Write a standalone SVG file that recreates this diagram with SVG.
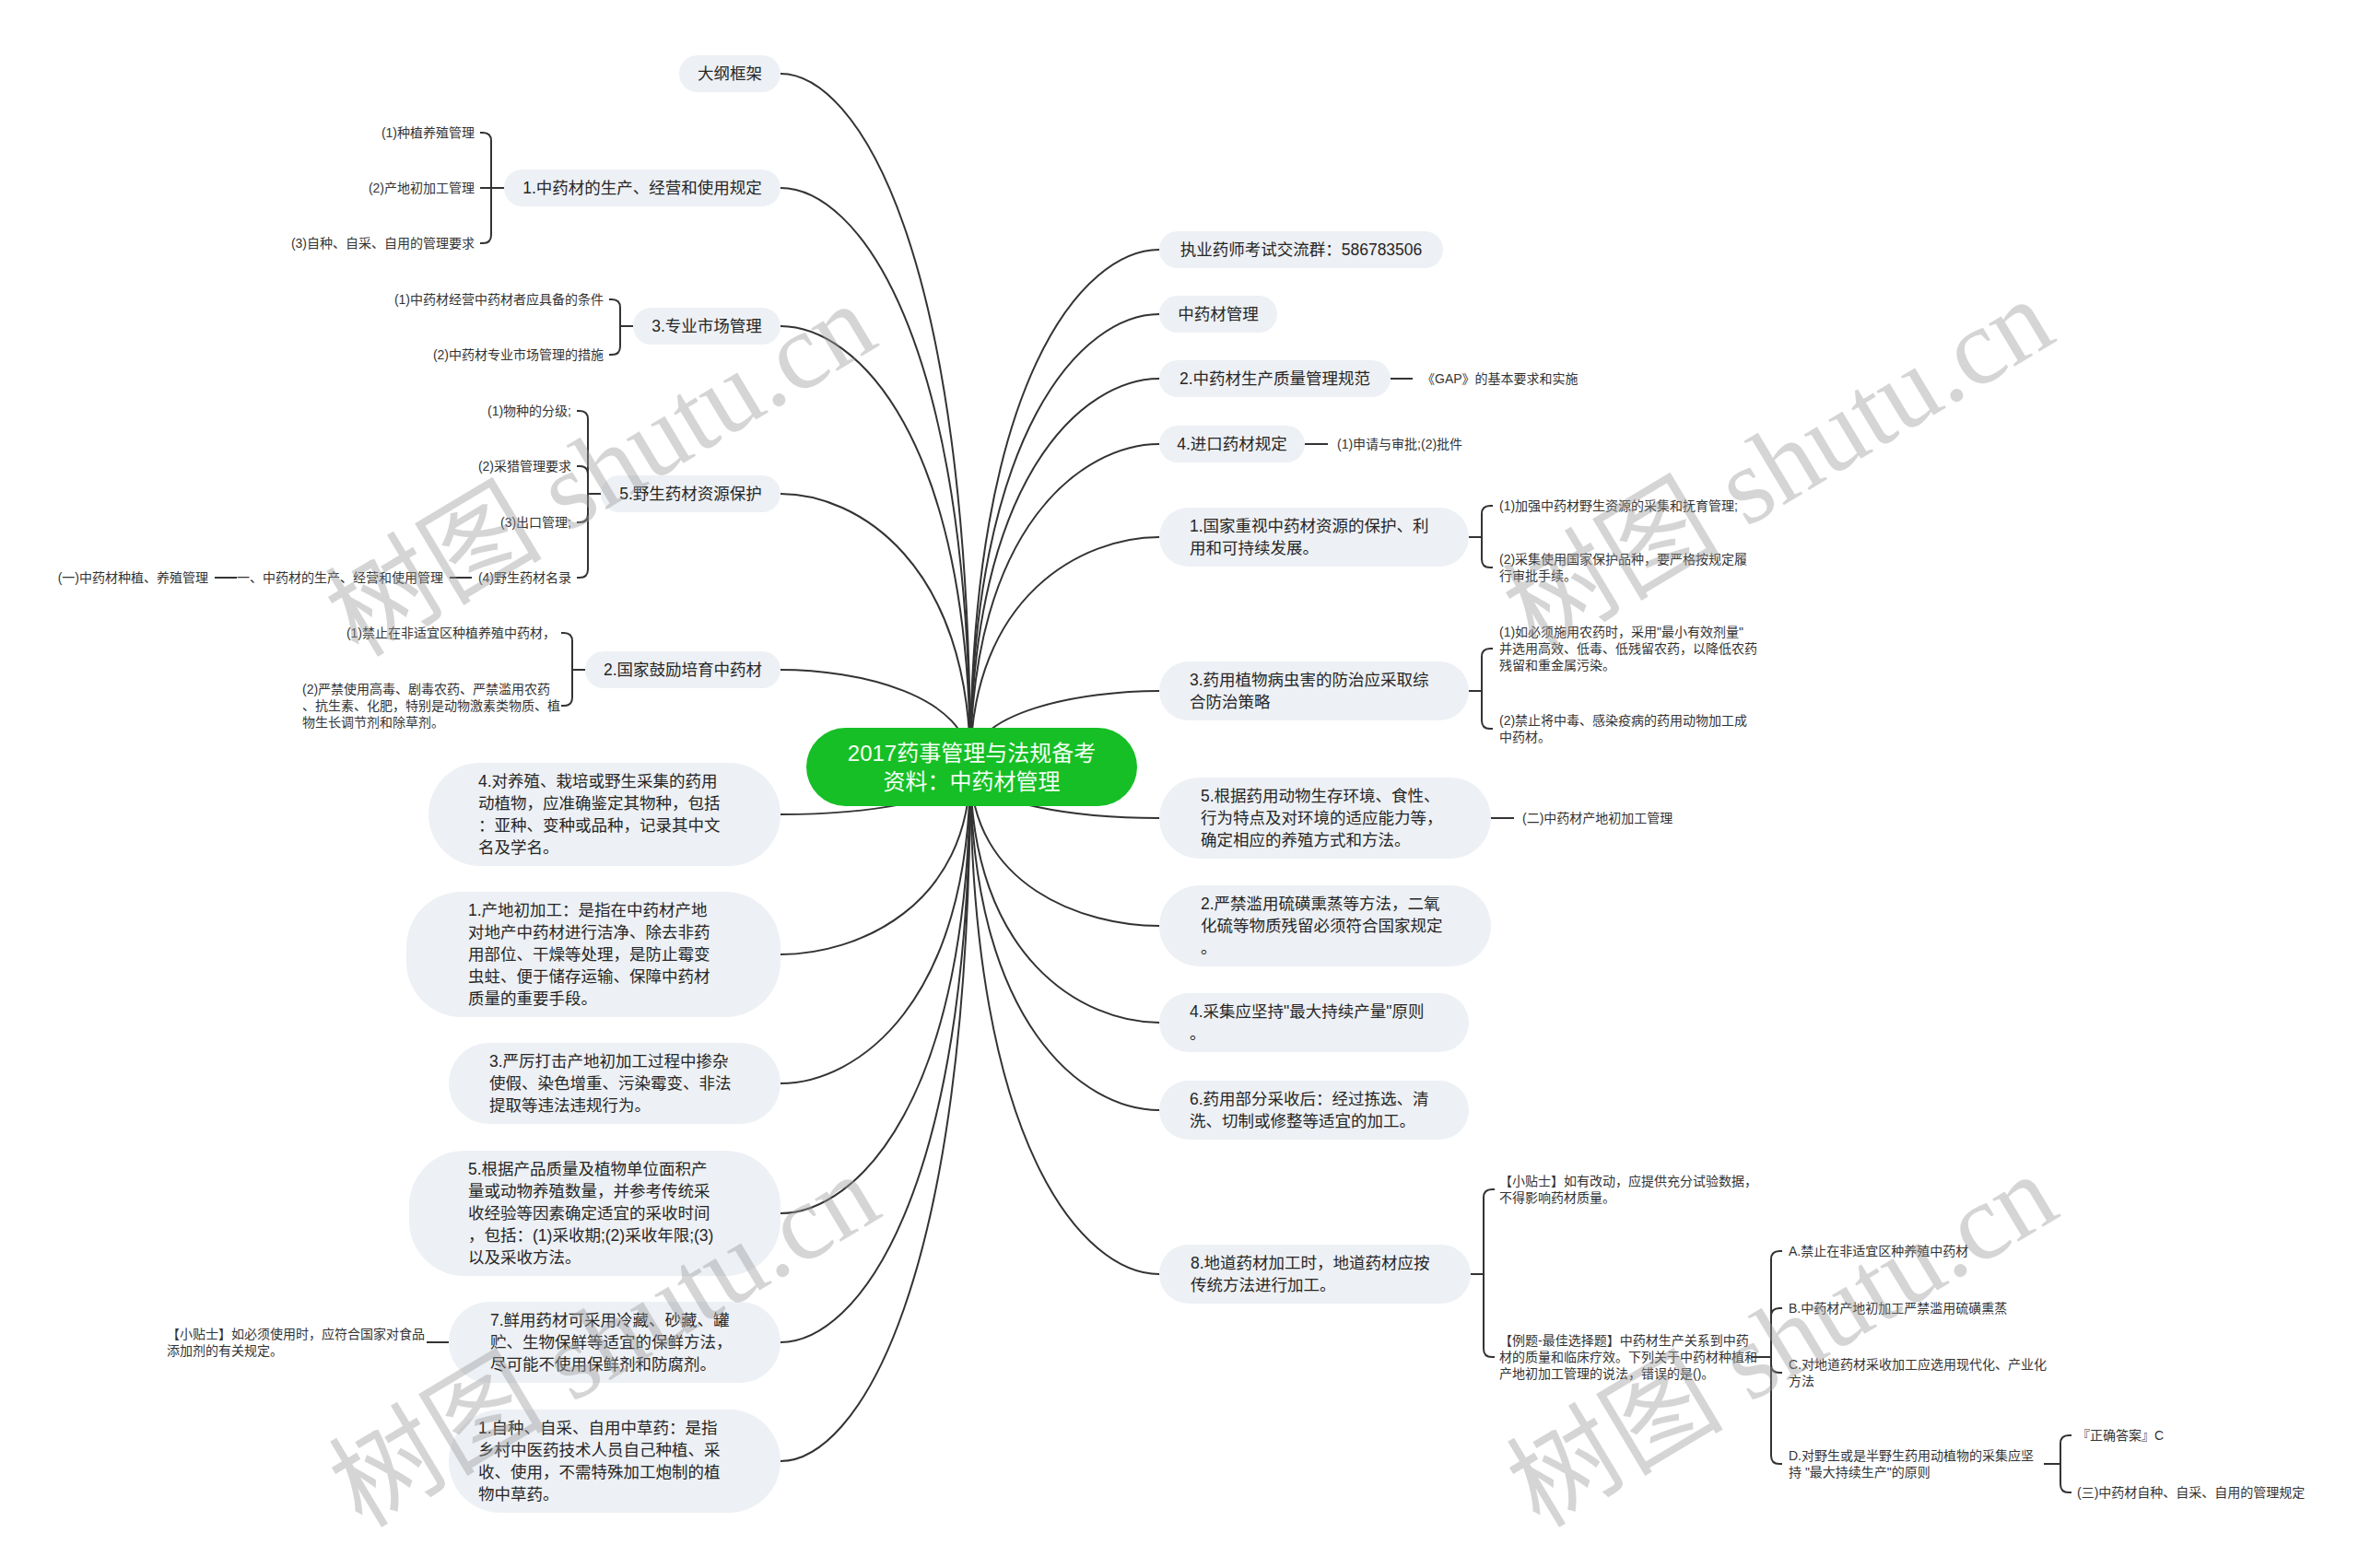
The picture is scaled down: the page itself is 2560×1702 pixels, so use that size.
<svg xmlns="http://www.w3.org/2000/svg" width="2560" height="1702" viewBox="0 0 2560 1702">
<style>
.bg{fill:#ffffff}
.pill{fill:#edf0f4}
.root{fill:#16bf26}
.t{font-family:"Liberation Sans","Noto Sans CJK SC",sans-serif;font-size:17.5px;fill:#262626}
.tm{font-family:"Liberation Sans","Noto Sans CJK SC",sans-serif;font-size:17.5px;fill:#262626;text-anchor:middle}
.rt{font-family:"Liberation Sans","Noto Sans CJK SC",sans-serif;font-size:24px;fill:#f4fff4;text-anchor:middle}
.s{font-family:"Liberation Sans","Noto Sans CJK SC",sans-serif;font-size:14px;fill:#333333}
.se{font-family:"Liberation Sans","Noto Sans CJK SC",sans-serif;font-size:14px;fill:#333333;text-anchor:end}
.c{fill:none;stroke:#333333;stroke-width:2}
.wm{font-family:"Liberation Serif","Noto Sans CJK SC",serif;font-size:118px;fill:#9a9a9a;fill-opacity:0.42;text-anchor:middle}
</style>
<rect class="bg" x="0" y="0" width="2560" height="1702"/>
<g id="connectors">
<path class="c" d="M1053 832 C1053 268 929 80 847 80"/>
<path class="c" d="M1053 832 C1053 361 929 204 847 204"/>
<path class="c" d="M1053 832 C1053 474 929 354 847 354"/>
<path class="c" d="M1053 832 C1053 610 929 536 847 536"/>
<path class="c" d="M1053 832 C1053 753 929 727 847 727"/>
<path class="c" d="M1053 832 C1053 871 929 884 847 884"/>
<path class="c" d="M1053 832 C1053 985 929 1036 847 1036"/>
<path class="c" d="M1053 832 C1053 1090 929 1176 847 1176"/>
<path class="c" d="M1053 832 C1053 1196 929 1317 847 1317"/>
<path class="c" d="M1053 832 C1053 1301 929 1457 847 1457"/>
<path class="c" d="M1053 832 C1053 1398 929 1586 847 1586"/>
<path class="c" d="M1053 832 C1053 411 1176 271 1258 271"/>
<path class="c" d="M1053 832 C1053 464 1176 341 1258 341"/>
<path class="c" d="M1053 832 C1053 516 1176 411 1258 411"/>
<path class="c" d="M1053 832 C1053 570 1176 482 1258 482"/>
<path class="c" d="M1053 832 C1053 645 1176 583 1258 583"/>
<path class="c" d="M1053 832 C1053 771 1176 750 1258 750"/>
<path class="c" d="M1053 832 C1053 874 1176 888 1258 888"/>
<path class="c" d="M1053 832 C1053 962 1176 1005 1258 1005"/>
<path class="c" d="M1053 832 C1053 1041 1176 1110 1258 1110"/>
<path class="c" d="M1053 832 C1053 1112 1176 1205 1258 1205"/>
<path class="c" d="M1053 832 C1053 1245 1176 1383 1258 1383"/>
<path class="c" d="M547 204 H533 M533 204 V153 Q533 144 524 144 H521 M533 204 H521 M533 204 V255 Q533 264 524 264 H521"/>
<path class="c" d="M687 354 H673 M673 354 V334 Q673 325 664 325 H661 M673 354 V376 Q673 385 664 385 H661"/>
<path class="c" d="M652 536 H638 M638 536 V455 Q638 446 629 446 H626 M638 536 V515 Q638 506 629 506 H626 M638 536 V558 Q638 567 629 567 H626 M638 536 V618 Q638 627 629 627 H626"/>
<path class="c" d="M512 627 H488 M257 627 H233"/>
<path class="c" d="M635 727 H621 M621 727 V696 Q621 687 612 687 H609 M621 727 V757 Q621 766 612 766 H609"/>
<path class="c" d="M487 1457 H463"/>
<path class="c" d="M1509 411 H1533"/>
<path class="c" d="M1416 482 H1441"/>
<path class="c" d="M1594 583 H1608 M1608 583 V558 Q1608 549 1617 549 H1620 M1608 583 V607 Q1608 616 1617 616 H1620"/>
<path class="c" d="M1594 750 H1608 M1608 750 V713 Q1608 704 1617 704 H1620 M1608 750 V782 Q1608 791 1617 791 H1620"/>
<path class="c" d="M1618 888 H1643"/>
<path class="c" d="M1596 1383 H1610 M1610 1383 V1300 Q1610 1291 1619 1291 H1622 M1610 1383 V1464 Q1610 1473 1619 1473 H1622"/>
<path class="c" d="M1900 1473 H1922 M1922 1473 V1367 Q1922 1358 1931 1358 H1934 M1922 1473 V1429 Q1922 1420 1931 1420 H1934 M1922 1473 V1481 Q1922 1490 1931 1490 H1934 M1922 1473 V1580 Q1922 1589 1931 1589 H1934"/>
<path class="c" d="M2218 1589 H2236 M2236 1589 V1567 Q2236 1558 2245 1558 H2248 M2236 1589 V1611 Q2236 1620 2245 1620 H2248"/>
</g>

<g id="root">
<rect class="root" x="875" y="790" width="359" height="85" rx="42.5"/>
<text class="rt" x="1054.5" y="826">2017药事管理与法规备考</text>
<text class="rt" x="1054.5" y="857">资料：中药材管理</text>
</g>

<g id="n-dagang"><rect class="pill" x="737" y="60" width="110" height="40" rx="20"/><text class="tm" x="792" y="86">大纲框架</text></g>
<g id="n-l1"><rect class="pill" x="547" y="184" width="300" height="40" rx="20"/><text class="tm" x="697" y="210">1.中药材的生产、经营和使用规定</text></g>
<g id="n-l1-c1"><text class="se" x="515" y="149">(1)种植养殖管理</text></g>
<g id="n-l1-c2"><text class="se" x="515" y="209">(2)产地初加工管理</text></g>
<g id="n-l1-c3"><text class="se" x="515" y="269">(3)自种、自采、自用的管理要求</text></g>
<g id="n-l3"><rect class="pill" x="687" y="334" width="160" height="40" rx="20"/><text class="tm" x="767" y="360">3.专业市场管理</text></g>
<g id="n-l3-c1"><text class="se" x="655" y="330">(1)中药材经营中药材者应具备的条件</text></g>
<g id="n-l3-c2"><text class="se" x="655" y="390">(2)中药材专业市场管理的措施</text></g>
<g id="n-l5"><rect class="pill" x="652" y="516" width="195" height="40" rx="20"/><text class="tm" x="749.5" y="542">5.野生药材资源保护</text></g>
<g id="n-l5-c1"><text class="se" x="620" y="451">(1)物种的分级;</text></g>
<g id="n-l5-c2"><text class="se" x="620" y="511">(2)采猎管理要求</text></g>
<g id="n-l5-c3"><text class="se" x="620" y="572">(3)出口管理;</text></g>
<g id="n-l5-c4"><text class="se" x="620" y="632">(4)野生药材名录</text></g>
<g id="n-l5-c4-1"><text class="se" x="481" y="632">一、中药材的生产、经营和使用管理</text></g>
<g id="n-l5-c4-1-1"><text class="se" x="226" y="632">(一)中药材种植、养殖管理</text></g>
<g id="n-l2"><rect class="pill" x="635" y="707" width="212" height="40" rx="20"/><text class="tm" x="741" y="733">2.国家鼓励培育中药材</text></g>
<g id="n-l2-c1"><text class="se" x="603" y="692">(1)禁止在非适宜区种植养殖中药材，</text></g>
<g id="n-l2-c2"><text class="s"><tspan x="328" y="753">(2)严禁使用高毒、剧毒农药、严禁滥用农药</tspan><tspan x="328" y="771">、抗生素、化肥，特别是动物激素类物质、植</tspan><tspan x="328" y="789">物生长调节剂和除草剂。</tspan></text></g>
<g id="n-l4"><rect class="pill" x="465" y="828" width="382" height="112" rx="56"/><text class="t"><tspan x="519" y="854">4.对养殖、栽培或野生采集的药用</tspan><tspan x="519" y="878">动植物，应准确鉴定其物种，包括</tspan><tspan x="519" y="902">：亚种、变种或品种，记录其中文</tspan><tspan x="519" y="926">名及学名。</tspan></text></g>
<g id="n-l1b"><rect class="pill" x="441" y="968" width="406" height="136" rx="60"/><text class="t"><tspan x="508" y="994">1.产地初加工：是指在中药材产地</tspan><tspan x="508" y="1018">对地产中药材进行洁净、除去非药</tspan><tspan x="508" y="1042">用部位、干燥等处理，是防止霉变</tspan><tspan x="508" y="1066">虫蛀、便于储存运输、保障中药材</tspan><tspan x="508" y="1090">质量的重要手段。</tspan></text></g>
<g id="n-l3b"><rect class="pill" x="487" y="1132" width="360" height="88" rx="44"/><text class="t"><tspan x="531" y="1158">3.严厉打击产地初加工过程中掺杂</tspan><tspan x="531" y="1182">使假、染色增重、污染霉变、非法</tspan><tspan x="531" y="1206">提取等违法违规行为。</tspan></text></g>
<g id="n-l5b"><rect class="pill" x="444" y="1249" width="403" height="136" rx="60"/><text class="t"><tspan x="508" y="1275">5.根据产品质量及植物单位面积产</tspan><tspan x="508" y="1299">量或动物养殖数量，并参考传统采</tspan><tspan x="508" y="1323">收经验等因素确定适宜的采收时间</tspan><tspan x="508" y="1347">，包括：(1)采收期;(2)采收年限;(3)</tspan><tspan x="508" y="1371">以及采收方法。</tspan></text></g>
<g id="n-l7"><rect class="pill" x="487" y="1413" width="360" height="88" rx="44"/><text class="t"><tspan x="532" y="1439">7.鲜用药材可采用冷藏、砂藏、罐</tspan><tspan x="532" y="1463">贮、生物保鲜等适宜的保鲜方法，</tspan><tspan x="532" y="1487">尽可能不使用保鲜剂和防腐剂。</tspan></text></g>
<g id="n-l7-c1"><text class="s"><tspan x="181" y="1453">【小贴士】如必须使用时，应符合国家对食品</tspan><tspan x="181" y="1471">添加剂的有关规定。</tspan></text></g>
<g id="n-l1c"><rect class="pill" x="487" y="1530" width="360" height="112" rx="56"/><text class="t"><tspan x="519" y="1556">1.自种、自采、自用中草药：是指</tspan><tspan x="519" y="1580">乡村中医药技术人员自己种植、采</tspan><tspan x="519" y="1604">收、使用，不需特殊加工炮制的植</tspan><tspan x="519" y="1628">物中草药。</tspan></text></g>

<g id="n-r-qun"><rect class="pill" x="1258" y="251" width="308" height="40" rx="20"/><text class="tm" x="1412" y="277">执业药师考试交流群：586783506</text></g>
<g id="n-r-zyc"><rect class="pill" x="1258" y="321" width="128" height="40" rx="20"/><text class="tm" x="1322" y="347">中药材管理</text></g>
<g id="n-r2"><rect class="pill" x="1258" y="391" width="251" height="40" rx="20"/><text class="tm" x="1383.5" y="417">2.中药材生产质量管理规范</text></g>
<g id="n-r2-c1"><text class="s" x="1543" y="416">《GAP》的基本要求和实施</text></g>
<g id="n-r4"><rect class="pill" x="1258" y="462" width="158" height="40" rx="20"/><text class="tm" x="1337" y="488">4.进口药材规定</text></g>
<g id="n-r4-c1"><text class="s" x="1451" y="487">(1)申请与审批;(2)批件</text></g>
<g id="n-r1"><rect class="pill" x="1258" y="551" width="336" height="64" rx="32"/><text class="t"><tspan x="1291" y="577">1.国家重视中药材资源的保护、利</tspan><tspan x="1291" y="601">用和可持续发展。</tspan></text></g>
<g id="n-r1-c1"><text class="s" x="1627" y="554">(1)加强中药材野生资源的采集和抚育管理;</text></g>
<g id="n-r1-c2"><text class="s"><tspan x="1627" y="612">(2)采集使用国家保护品种，要严格按规定履</tspan><tspan x="1627" y="630">行审批手续。</tspan></text></g>
<g id="n-r3"><rect class="pill" x="1258" y="718" width="336" height="64" rx="32"/><text class="t"><tspan x="1291" y="744">3.药用植物病虫害的防治应采取综</tspan><tspan x="1291" y="768">合防治策略</tspan></text></g>
<g id="n-r3-c1"><text class="s"><tspan x="1627" y="691">(1)如必须施用农药时，采用"最小有效剂量"</tspan><tspan x="1627" y="709">并选用高效、低毒、低残留农药，以降低农药</tspan><tspan x="1627" y="727">残留和重金属污染。</tspan></text></g>
<g id="n-r3-c2"><text class="s"><tspan x="1627" y="787">(2)禁止将中毒、感染疫病的药用动物加工成</tspan><tspan x="1627" y="805">中药材。</tspan></text></g>
<g id="n-r5"><rect class="pill" x="1258" y="844" width="360" height="88" rx="44"/><text class="t"><tspan x="1303" y="870">5.根据药用动物生存环境、食性、</tspan><tspan x="1303" y="894">行为特点及对环境的适应能力等，</tspan><tspan x="1303" y="918">确定相应的养殖方式和方法。</tspan></text></g>
<g id="n-r5-c1"><text class="s" x="1652" y="893">(二)中药材产地初加工管理</text></g>
<g id="n-r2b"><rect class="pill" x="1258" y="961" width="360" height="88" rx="44"/><text class="t"><tspan x="1303" y="987">2.严禁滥用硫磺熏蒸等方法，二氧</tspan><tspan x="1303" y="1011">化硫等物质残留必须符合国家规定</tspan><tspan x="1303" y="1035">。</tspan></text></g>
<g id="n-r4b"><rect class="pill" x="1258" y="1078" width="336" height="64" rx="32"/><text class="t"><tspan x="1291" y="1104">4.采集应坚持"最大持续产量"原则</tspan><tspan x="1291" y="1128">。</tspan></text></g>
<g id="n-r6"><rect class="pill" x="1258" y="1173" width="336" height="64" rx="32"/><text class="t"><tspan x="1291" y="1199">6.药用部分采收后：经过拣选、清</tspan><tspan x="1291" y="1223">洗、切制或修整等适宜的加工。</tspan></text></g>
<g id="n-r8"><rect class="pill" x="1258" y="1351" width="338" height="64" rx="32"/><text class="t"><tspan x="1292" y="1377">8.地道药材加工时，地道药材应按</tspan><tspan x="1292" y="1401">传统方法进行加工。</tspan></text></g>
<g id="n-r8-c1"><text class="s"><tspan x="1627" y="1287">【小贴士】如有改动，应提供充分试验数据，</tspan><tspan x="1627" y="1305">不得影响药材质量。</tspan></text></g>
<g id="n-r8-c2"><text class="s"><tspan x="1627" y="1460">【例题-最佳选择题】中药材生产关系到中药</tspan><tspan x="1627" y="1478">材的质量和临床疗效。下列关于中药材种植和</tspan><tspan x="1627" y="1496">产地初加工管理的说法，错误的是()。</tspan></text></g>
<g id="n-opt-a"><text class="s" x="1941" y="1363">A.禁止在非适宜区种养殖中药材</text></g>
<g id="n-opt-b"><text class="s" x="1941" y="1425">B.中药材产地初加工严禁滥用硫磺熏蒸</text></g>
<g id="n-opt-c"><text class="s"><tspan x="1941" y="1486">C.对地道药材采收加工应选用现代化、产业化</tspan><tspan x="1941" y="1504">方法</tspan></text></g>
<g id="n-opt-d"><text class="s"><tspan x="1941" y="1585">D.对野生或是半野生药用动植物的采集应坚</tspan><tspan x="1941" y="1603">持 "最大持续生产"的原则</tspan></text></g>
<g id="n-answer"><text class="s" x="2254" y="1563">『正确答案』C</text></g>
<g id="n-san"><text class="s" x="2254" y="1625">(三)中药材自种、自采、自用的管理规定</text></g>

<g id="watermarks">
<text class="wm" transform="translate(652 510) rotate(-31)" x="0" y="40">树图 shutu.cn</text>
<text class="wm" transform="translate(1930 505) rotate(-31)" x="0" y="40">树图 shutu.cn</text>
<text class="wm" transform="translate(656 1455) rotate(-31)" x="0" y="40">树图 shutu.cn</text>
<text class="wm" transform="translate(1934 1455) rotate(-31)" x="0" y="40">树图 shutu.cn</text>
</g>
</svg>
